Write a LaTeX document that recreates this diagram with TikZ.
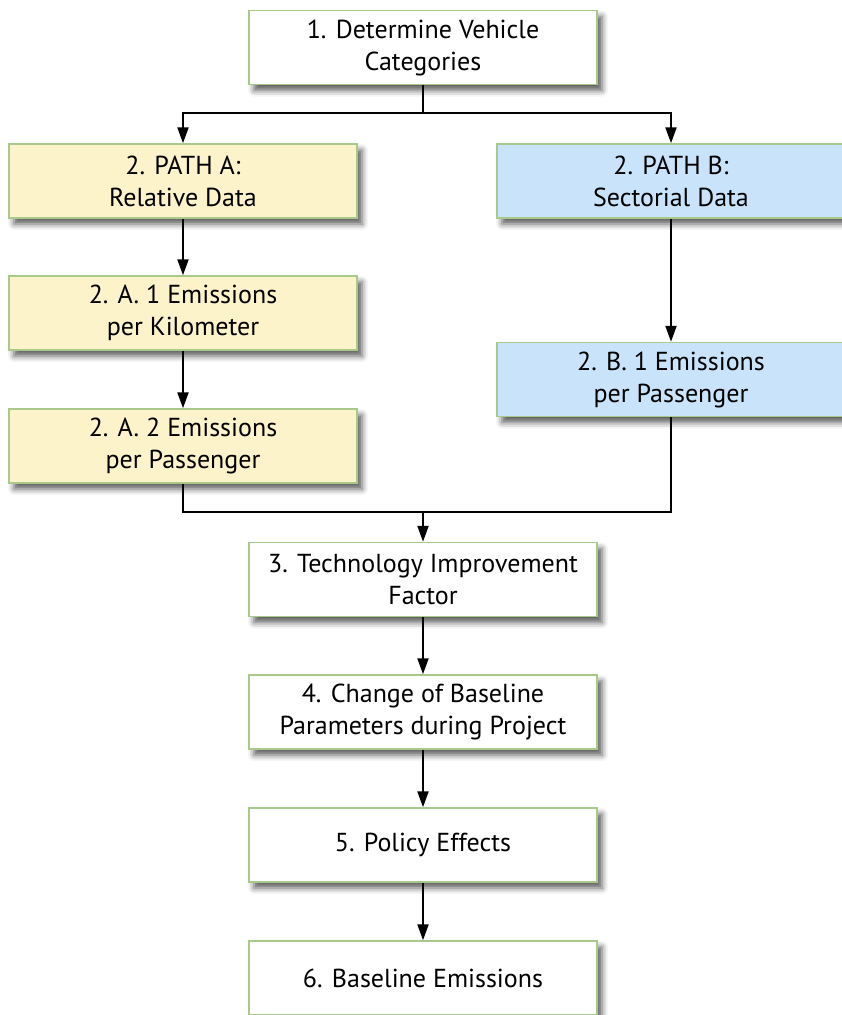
\documentclass[tikz,border=0pt]{standalone}
\usepackage{fontspec}
\setmainfont{PT Sans}
\usetikzlibrary{arrows.meta, shadows.blur}
\definecolor{boxline}{HTML}{A8C98A}
\definecolor{pathA}{HTML}{FCF3CA}
\definecolor{pathB}{HTML}{C9E4FA}
\begin{document}
\begin{tikzpicture}[x=1pt, y=-1pt,
			step box/.style={rectangle, draw=boxline, line width=1.5pt, fill=white,
				minimum width=348pt, minimum height=74pt, inner sep=0pt, align=center,
				font=\fontsize{26}{32}\selectfont,
				blur shadow={shadow xshift=5pt, shadow yshift=-6pt, shadow blur radius=6pt, shadow opacity=65}},
			boxA/.style={step box, fill=pathA},
			boxB/.style={step box, fill=pathB},
			link/.style={line width=2.2pt},
			arr/.style={link, -{Triangle[length=16pt, width=11pt]}},
		]
		\useasboundingbox (0,0) rectangle (841,1015);

		\node[step box] (cat) at (423, 47.5) {1. Determine Vehicle\\Categories};
		\node[boxA] (pa)  at (183, 181)   {2. PATH A:\\Relative Data};
		\node[boxB] (pb)  at (671, 181)   {2. PATH B:\\Sectorial Data};
		\node[boxA] (a1)  at (183, 313)   {2. A. 1 Emissions\\per Kilometer};
		\node[boxA] (a2)  at (183, 446)   {2. A. 2 Emissions\\per Passenger};
		\node[boxB] (b1)  at (671, 379.5) {2. B. 1 Emissions\\per Passenger};
		\node[step box] (tech)   at (423, 579.5) {3. Technology Improvement\\Factor};
		\node[step box] (change) at (423, 712)   {4. Change of Baseline\\Parameters during Project};
		\node[step box] (policy) at (423, 845)   {5. Policy Effects};
		\node[step box] (base)   at (423, 978)   {6. Baseline Emissions};

		\coordinate (split) at (423, 113);
		\coordinate (merge) at (423, 512);

		% split into the two paths
		\draw[link] (cat) -- (split);
		\draw[arr] (split) -| (pa);
		\draw[arr] (split) -| (pb);

		\draw[arr] (pa) -- (a1);
		\draw[arr] (a1) -- (a2);
		\draw[arr] (pb) -- (b1);

		% paths join again
		\draw[link] (a2) |- (merge);
		\draw[link] (b1) |- (merge);
		\draw[arr] (merge) -- (tech);

		\draw[arr] (tech) -- (change);
		\draw[arr] (change) -- (policy);
		\draw[arr] (policy) -- (base);
	\end{tikzpicture}
\end{document}
